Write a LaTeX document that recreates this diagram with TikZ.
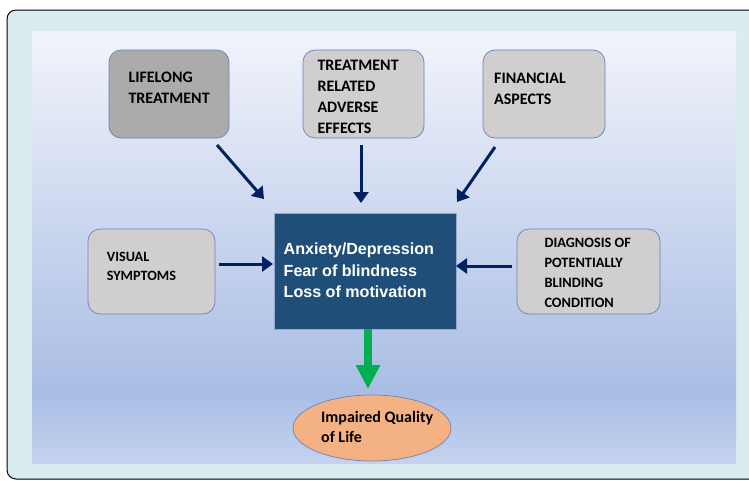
\documentclass[tikz,border=0pt]{standalone}
\usepackage{fontspec}
\setmainfont{Carlito}
\newfontfamily\arialb{Liberation Sans}
\usetikzlibrary{arrows.meta,shapes.geometric}
\definecolor{frameblue}{HTML}{D9ECF0}
\definecolor{gtop}{HTML}{F2F4FB}
\definecolor{gmid}{HTML}{A9BDE4}
\definecolor{gbot}{HTML}{C4D2EE}
\definecolor{boxgrey}{HTML}{D0CECE}
\definecolor{darkgrey}{HTML}{ABABAB}
\definecolor{boxedge}{HTML}{6A84B8}
\definecolor{navy}{HTML}{002060}
\definecolor{centerblue}{HTML}{1F4E79}
\definecolor{arrowgreen}{HTML}{00B050}
\definecolor{salmon}{HTML}{F4B183}
\tikzset{
  factor/.style={draw=boxedge, line width=0.7pt, fill=boxgrey, rounded corners=12pt, inner sep=0pt},
  lbl/.style={font=\bfseries\fontsize{16}{21}\selectfont, align=left, anchor=north west, inner sep=0pt, text=black},
  nav/.style={draw=navy, line width=3pt, -{Triangle[length=11pt,width=15pt]}},
}
\begin{document}
\begin{tikzpicture}[x=1pt,y=-1pt]
\useasboundingbox (0,0) rectangle (749,480);
\fill[white] (0,0) rectangle (749,480);
\draw[fill=frameblue, line width=1pt, rounded corners=9pt] (7,10) rectangle (775,479);
\shade[top color=gtop, bottom color=gmid] (32,31) rectangle (736,392);
\shade[top color=gmid, bottom color=gbot] (32,391.5) rectangle (736,463);

% factor boxes
\path[factor, fill=darkgrey] (109,50) rectangle (229,138);
\node[lbl] (lifeT) at (128.3,72.3) {LIFELONG\\TREATMENT};

\path[factor] (303,50) rectangle (424,138);
\node[lbl, font=\bfseries\fontsize{16}{20.9}\selectfont] (advT) at (317.3,60) {TREATMENT\\RELATED\\ADVERSE\\EFFECTS};

\path[factor] (483,50) rectangle (605,138);
\node[lbl] (finT) at (494,72.7) {FINANCIAL\\ASPECTS};

\path[factor] (88,229) rectangle (215,314);
\node[lbl, font=\bfseries\fontsize{14.2}{18.4}\selectfont] (visT) at (106.7,252.3) {VISUAL\\SYMPTOMS};

\path[factor] (517,229) rectangle (660,314);
\node[lbl, font=\bfseries\fontsize{14.3}{20}\selectfont] (diagT) at (544.3,238.3) {DIAGNOSIS OF\\POTENTIALLY\\BLINDING\\CONDITION};

% center
\node[draw=boxedge!70, line width=0.6pt, fill=centerblue, minimum width=182pt, minimum height=116pt, inner sep=0pt] (ctr) at (365,271) {};
\node[anchor=north west, inner sep=0pt, align=left, text=white, font=\arialb\bfseries\fontsize{16.1}{21.7}\selectfont] (ctrT) at (283.5,242.5) {Anxiety/Depression\\Fear of blindness\\Loss of motivation};

% ellipse
\node[ellipse, draw=boxedge, line width=0.7pt, fill=salmon, minimum width=158pt, minimum height=66pt, inner sep=0pt] (qol) at (372,428) {};
\node[lbl, font=\bfseries\fontsize{16}{20.5}\selectfont] (qolT) at (321,411) {Impaired Quality\\of Life};

% arrow endpoints
\coordinate (a1s) at (217,145); \coordinate (a1e) at (264,199);
\coordinate (a2s) at (361,145); \coordinate (a2e) at (361,203);
\coordinate (a3s) at (495,147); \coordinate (a3e) at (457,202);
\coordinate (a4s) at (219,264); \coordinate (a4e) at (273,264);
\coordinate (a5s) at (512,266); \coordinate (a5e) at (456,266);
\draw[nav] (a1s) -- (a1e);
\draw[nav] (a2s) -- (a2e);
\draw[nav] (a3s) -- (a3e);
\draw[nav] (a4s) -- (a4e);
\draw[nav] (a5s) -- (a5e);

% green arrow
\coordinate (g1) at (368,329); \coordinate (g2) at (368,389);
\draw[draw=arrowgreen, line width=8pt, -{Triangle[length=24pt,width=23pt]}] (ctr.south -| g1) -- (g2);
\end{tikzpicture}
\end{document}
